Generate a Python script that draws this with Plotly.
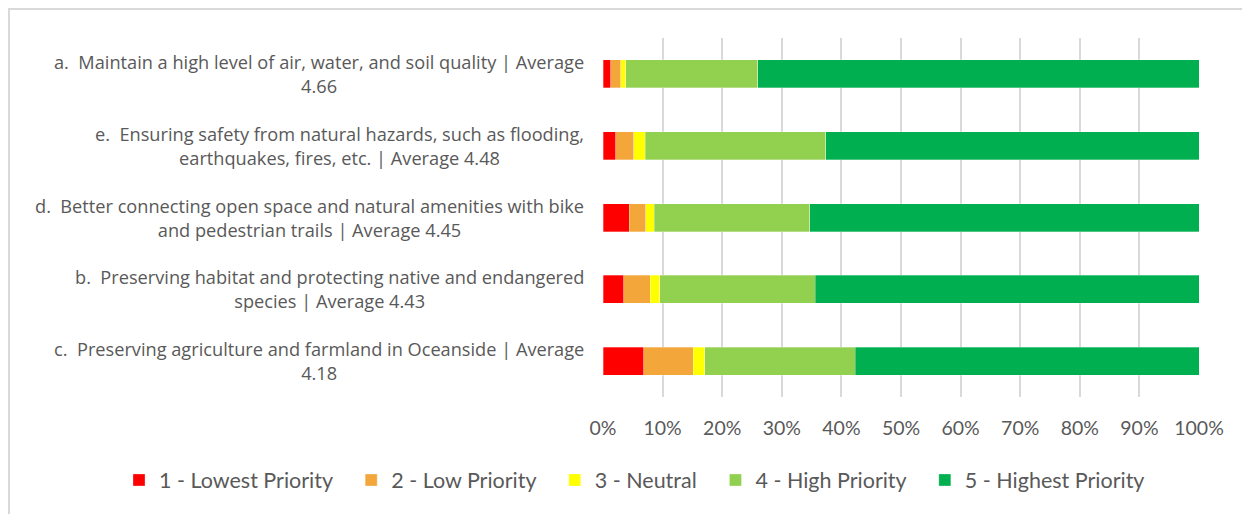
import plotly.graph_objects as go

# categories, top to bottom as shown
labels = [
    "a.\u00a0 Maintain a high level of air, water, and soil quality | Average<br>4.66",
    "e.\u00a0 Ensuring safety from natural hazards, such as flooding,<br>earthquakes, fires, etc. | Average 4.48",
    "d.\u00a0 Better connecting open space and natural amenities with bike<br>and pedestrian trails | Average 4.45",
    "b.\u00a0 Preserving habitat and protecting native and endangered<br>species | Average 4.43",
    "c.\u00a0 Preserving agriculture and farmland in Oceanside | Average<br>4.18",
]
cat_keys = ["a", "e", "d", "b", "c"]

series_names = ["1 - Lowest Priority", "2 - Low Priority", "3 - Neutral",
                "4 - High Priority", "5 - Highest Priority"]
lowest = [1.3, 2.1, 4.4, 3.5, 6.8]
low = [1.7, 3.1, 2.8, 4.4, 8.3]
neutral = [0.8, 1.9, 1.4, 1.6, 2.0]
high = [22.2, 30.3, 26.1, 26.1, 25.2]
highest = [74.0, 62.6, 65.3, 64.4, 57.7]

colors = ['#FF0000', '#F3A73B', '#FFFF00', '#92D050', '#00B050']
text_color = '#595959'
font_family = 'Lato, Open Sans, sans-serif'

# page body has an 8px margin, so the figure is a bit smaller than the window
W, H = 1242, 506
L, R, T, B = 595, 51, 30, 117
pw = W - L - R
ph = H - T - B

fig = go.Figure()
for name, vals, col in zip(series_names, [lowest, low, neutral, high, highest], colors):
    fig.add_trace(go.Bar(
        y=cat_keys,
        x=vals,
        orientation='h',
        name=name + '\u00a0\u00a0\u2009',  # a little extra room between legend entries
        marker=dict(color=col, line=dict(color='rgba(255,255,255,0.5)', width=0.6)),
    ))

# category labels with centred lines, like the original
for key, lab in zip(cat_keys, labels):
    fig.add_annotation(
        x=0, xref='paper', y=key, yref='y',
        text=lab, showarrow=False,
        xanchor='right', yanchor='middle', align='center',
        xshift=-17,
        font=dict(size=18.2, color=text_color, family='Open Sans, sans-serif'),
    )

# light frame around the chart
fig.add_shape(
    type='rect', xref='paper', yref='paper',
    x0=(1 - L) / pw, x1=(W + 10 - L) / pw,
    y0=(T + ph - (H + 10)) / ph, y1=(T + ph - 1) / ph,
    line=dict(color='#D9D9D9', width=2), fillcolor='rgba(0,0,0,0)',
    layer='below',
)

fig.update_layout(
    width=W, height=H,
    barmode='stack',
    bargap=0.61,
    paper_bgcolor='white',
    plot_bgcolor='white',
    margin=dict(l=L, r=R, t=T, b=B),
    font=dict(family=font_family, color=text_color, size=19),
    xaxis=dict(
        range=[0, 100],
        dtick=10,
        ticksuffix='%',
        showgrid=True,
        gridcolor='#D9D9D9',
        gridwidth=2,
        zeroline=False,
        showline=False,
        ticks='',
        ticklabelstandoff=17,
        tickfont=dict(size=19.5, color=text_color),
    ),
    yaxis=dict(
        autorange='reversed',
        showticklabels=False,
        showgrid=False,
        zeroline=False,
    ),
    legend=dict(
        orientation='h',
        xref='paper', yref='paper',
        x=(111 - L) / pw, y=(T + ph - 472) / ph,
        xanchor='left', yanchor='middle',
        font=dict(size=21.5, color=text_color),
        traceorder='normal',
        itemwidth=30,
    ),
    showlegend=True,
)

fig.write_html("out.html")
